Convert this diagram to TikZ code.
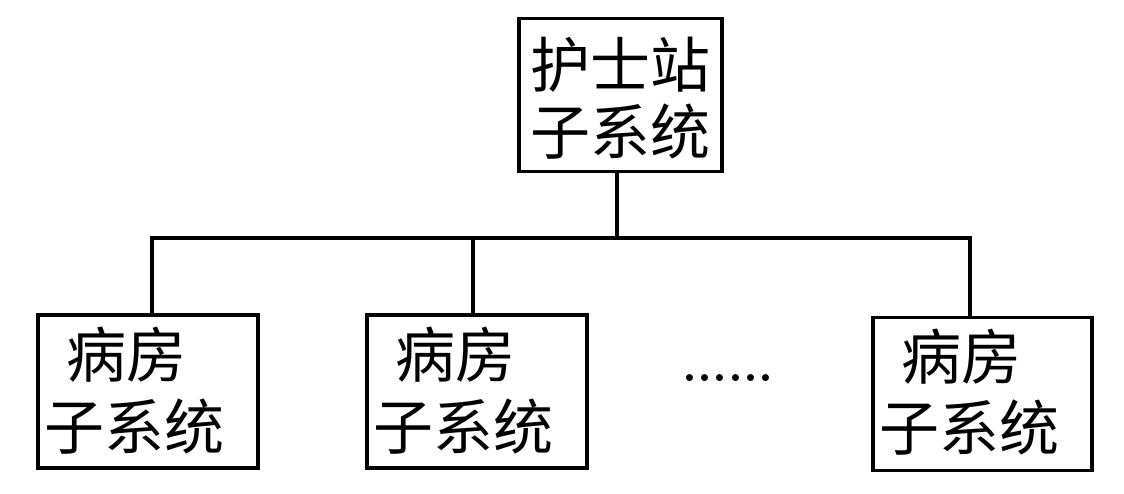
\documentclass[tikz,border=0pt]{standalone}
\usepackage{fontspec}
\newfontfamily\cjk{Noto Sans CJK SC}
\begin{document}
\begin{tikzpicture}[x=1pt,y=-1pt,
  box/.style={draw,line width=3.5pt,minimum width=#1,minimum height=153pt,inner sep=0pt},
  txt/.style={anchor=west,font=\cjk\fontsize{60}{64}\selectfont,inner sep=0pt},
  ln/.style={line width=3.5pt}]
\useasboundingbox (0,0) rectangle (1124,493);
\node[box=203pt] (top) at (620.5,95) {};
\node[txt] (t1) at (530,65) {护士站};
\node[txt] (t2) at (530,132) {子系统};
\node[box=220pt] (b1) at (148,391.5) {};
\node[txt] at (66,355) {病房};
\node[txt] at (44,427) {子系统};
\node[box=220pt] (b2) at (477,391.5) {};
\node[txt] at (395,355) {病房};
\node[txt] at (373,427) {子系统};
\node[box=219pt] (b3) at (982.5,394) {};
\node[txt] at (901,357) {病房};
\node[txt] at (879,428) {子系统};
\node[font=\bfseries\fontsize{48}{48}\selectfont,inner sep=0pt] (dots) at (728,378) {......};
\coordinate (bus) at (617,238);
\draw[ln] (top.south -| bus) -- (bus);
\draw[ln] (b1.north -| 152,0) |- (bus) -| (b3.north -| 970,0);
\draw[ln] (b2.north -| 473,0) -- (473,238);
\end{tikzpicture}
\end{document}
